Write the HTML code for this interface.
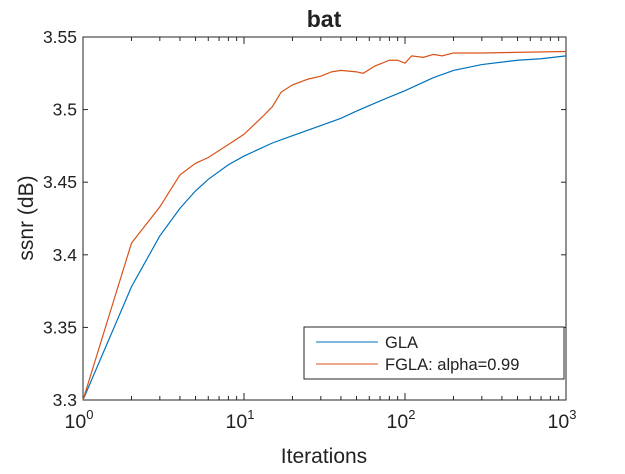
<!DOCTYPE html>
<html><head><meta charset="utf-8"><style>
body{margin:0;background:#fff;width:625px;height:469px;overflow:hidden}
text{font-family:"Liberation Sans",sans-serif;fill:#222}
</style></head><body>
<svg id="chart" width="625" height="469" xmlns="http://www.w3.org/2000/svg">
<rect x="0" y="0" width="625" height="469" fill="#fff"/>
<g id="grid"></g>
<g id="series"></g>
<text x="324" y="27" font-size="23" font-weight="bold" text-anchor="middle">bat</text>
<text x="324" y="463" font-size="21" text-anchor="middle">Iterations</text>
<text transform="translate(33,218) rotate(-90)" font-size="21" text-anchor="middle">ssnr (dB)</text>
<g>
<rect x="304" y="327" width="260" height="52" fill="#fff" stroke="#262626" stroke-width="1"/>
<line x1="316" y1="342" x2="378" y2="342" stroke="#0072BD" stroke-width="1"/>
<text x="385" y="348" font-size="16.5">GLA</text>
<line x1="316" y1="364" x2="378" y2="364" stroke="#D95319" stroke-width="1"/>
<text x="385" y="370" font-size="16.5">FGLA: alpha=0.99</text>
</g>
</svg>
<script>
const glaX=[1,2,3,4,5,6,8,10,15,20,30,40,50,70,100,150,200,300,500,700,1000];
const glaY=[3.3,3.378,3.413,3.432,3.444,3.452,3.462,3.468,3.477,3.482,3.489,3.494,3.499,3.506,3.513,3.522,3.527,3.531,3.534,3.535,3.537];
const fglaX=[1,2,3,4,5,6,8,10,13,15,17,20,25,30,35,40,50,55,65,80,90,100,110,130,150,170,200,300,1000];
const fglaY=[3.3,3.408,3.433,3.455,3.463,3.467,3.476,3.483,3.495,3.502,3.512,3.517,3.521,3.523,3.526,3.527,3.526,3.525,3.530,3.534,3.534,3.532,3.537,3.536,3.538,3.537,3.539,3.539,3.540];
const yTicks=[3.3,3.35,3.4,3.45,3.5,3.55];
const yTickLabels=["3.3","3.35","3.4","3.45","3.5","3.55"];
const xDecades=[0,1,2,3];
const L=83,R=566,T=37,B=400;
const sx=v=>L+Math.log10(v)/3*(R-L);
const sy=v=>B-(v-3.3)/0.25*(B-T);
const NS="http://www.w3.org/2000/svg";
const g=document.getElementById('grid'),s=document.getElementById('series');
function mk(tag,attrs,parent){const e=document.createElementNS(NS,tag);for(const k in attrs)e.setAttribute(k,attrs[k]);parent.appendChild(e);return e;}
const box=mk('rect',{x:L,y:T,width:R-L,height:B-T,fill:'none',stroke:'#262626','stroke-width':1},g);


yTicks.forEach((v,i)=>{const y=sy(v);
mk('line',{x1:L,y1:y,x2:L+5,y2:y,stroke:'#262626'},g);
mk('line',{x1:R,y1:y,x2:R-5,y2:y,stroke:'#262626'},g);
const t=mk('text',{x:L-6,y:y+6,'font-size':17.5,'text-anchor':'end'},g);t.textContent=yTickLabels[i];

});
xDecades.forEach(d=>{const x=sx(Math.pow(10,d));
mk('line',{x1:x,y1:B,x2:x,y2:B-7,stroke:'#262626'},g);
mk('line',{x1:x,y1:T,x2:x,y2:T+7,stroke:'#262626'},g);
const t=mk('text',{x:x-4,y:B+28,'font-size':19.5,'text-anchor':'middle'},g);
t.innerHTML='10<tspan font-size="13" dy="-9">'+d+'</tspan>';


if(d<3)for(let m=2;m<10;m++){const xm=sx(m*Math.pow(10,d));
mk('line',{x1:xm,y1:B,x2:xm,y2:B-4,stroke:'#262626'},g);
mk('line',{x1:xm,y1:T,x2:xm,y2:T+4,stroke:'#262626'},g);}});
function line(xs,ys,c,name){const p=mk('polyline',{points:xs.map((x,i)=>sx(x)+','+sy(ys[i])).join(' '),fill:'none',stroke:c,'stroke-width':1.2},s);

}
line(glaX,glaY,'#0072BD','gla-line');
line(fglaX,fglaY,'#D95319','fgla-line');
</script>
</body></html>
